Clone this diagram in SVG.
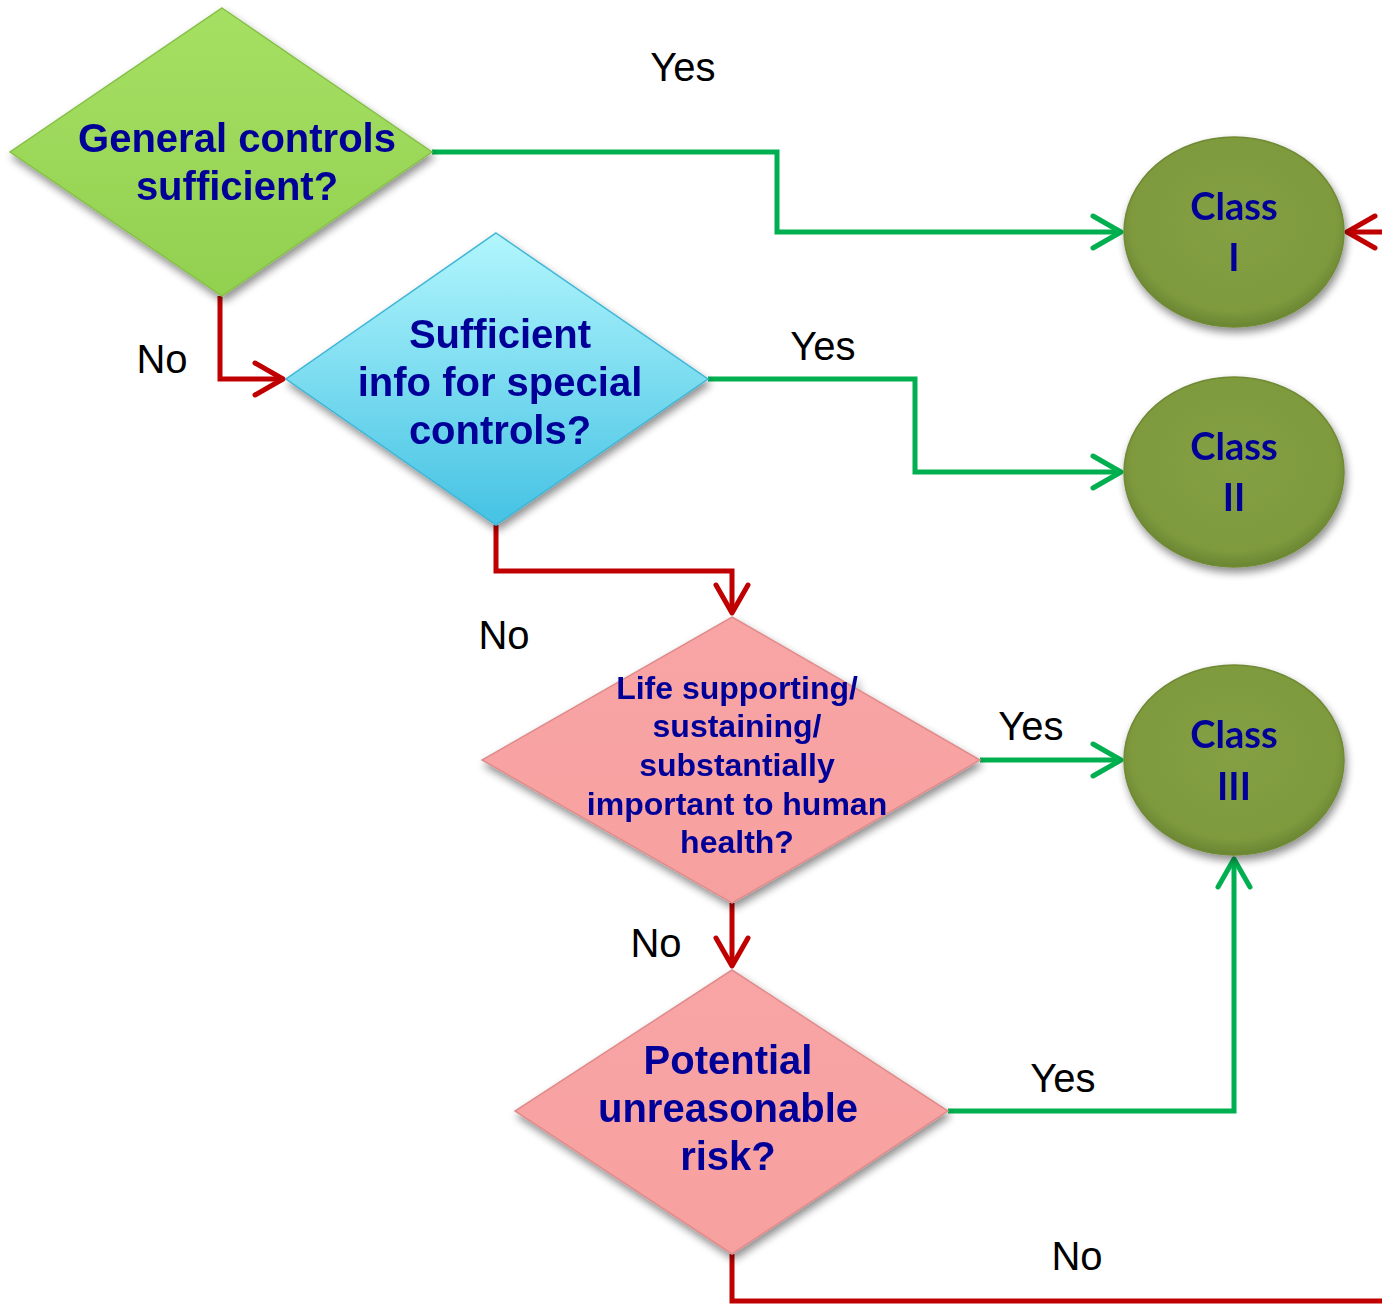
<svg xmlns="http://www.w3.org/2000/svg" width="1382" height="1304" viewBox="0 0 1382 1304">
<style>
.q{font-family:"Liberation Sans",Arial,sans-serif;font-weight:bold;fill:#000099;text-anchor:middle}
.c{font-family:Lato,"Liberation Sans",sans-serif;font-weight:bold;fill:#000099;text-anchor:middle;font-size:38px}
.lbl{font-family:"Liberation Sans",Arial,sans-serif;font-size:40px;fill:#000;text-anchor:middle}
.g{fill:none;stroke:#00b050;stroke-width:5}
.r{fill:none;stroke:#c00000;stroke-width:5}
.ah{stroke-linecap:round;stroke-linejoin:round}
</style>
<defs>
<filter id="sh" x="-10%" y="-10%" width="125%" height="130%">
<feGaussianBlur in="SourceAlpha" stdDeviation="4"/>
<feOffset dx="2" dy="5" result="b"/>
<feComponentTransfer><feFuncA type="linear" slope="0.45"/></feComponentTransfer>
<feMerge><feMergeNode/><feMergeNode in="SourceGraphic"/></feMerge>
</filter>
<linearGradient id="gG" x1="0" y1="0" x2="0" y2="1"><stop offset="0" stop-color="#a6e063"/><stop offset="1" stop-color="#92d050"/></linearGradient>
<linearGradient id="gB" x1="0" y1="0" x2="0" y2="1"><stop offset="0" stop-color="#b2f6fd"/><stop offset="1" stop-color="#45c2e3"/></linearGradient>
<linearGradient id="gP" x1="0" y1="0" x2="0" y2="1"><stop offset="0" stop-color="#f9a5a5"/><stop offset="1" stop-color="#f7a0a0"/></linearGradient>
<radialGradient id="gC" cx="0.5" cy="0.45" r="0.55"><stop offset="0" stop-color="#84a044"/><stop offset="0.85" stop-color="#7e9a3e"/><stop offset="1" stop-color="#6a8532"/></radialGradient>
</defs>
<rect width="1382" height="1304" fill="#fff"/>

<g id="connectors">
<polyline class="g" points="432,152 777,152 777,232 1118,232"/>
<path class="g ah" d="M1093,216 L1121,232 L1093,248"/>
<polyline class="r" points="220,296 220,379 280,379"/>
<path class="r ah" d="M255,363 L283,379 L255,395"/>
<polyline class="g" points="708,379 915,379 915,472 1118,472"/>
<path class="g ah" d="M1093,456 L1121,472 L1093,488"/>
<polyline class="r" points="496,525 496,571 732,571 732,610"/>
<path class="r ah" d="M716,585 L732,613 L748,585"/>
<polyline class="g" points="980,760 1118,760"/>
<path class="g ah" d="M1093,744 L1121,760 L1093,776"/>
<polyline class="r" points="732,903 732,963"/>
<path class="r ah" d="M716,938 L732,966 L748,938"/>
<polyline class="g" points="948,1111 1234,1111 1234,862"/>
<path class="g ah" d="M1218,887 L1234,859 L1250,887"/>
<polyline class="r" points="732,1254 732,1301 1382,1301"/>
<polyline class="r" points="1385,232 1350,232"/>
<path class="r ah" d="M1375,216 L1347,232 L1375,248"/>
<text class="lbl" x="683" y="81">Yes</text>
<text class="lbl" x="162" y="373">No</text>
<text class="lbl" x="823" y="360">Yes</text>
<text class="lbl" x="504" y="649">No</text>
<text class="lbl" x="1031" y="740">Yes</text>
<text class="lbl" x="656" y="957">No</text>
<text class="lbl" x="1063" y="1092">Yes</text>
<text class="lbl" x="1077" y="1270">No</text>
</g>

<g id="d1" filter="url(#sh)">
<polygon points="222,8 432,152 222,296 10,152" fill="url(#gG)" stroke="#86c048" stroke-width="1.5"/>
<text class="q" font-size="40" x="237" y="152">General controls</text>
<text class="q" font-size="40" x="237" y="200">sufficient?</text>
</g>

<g id="d2" filter="url(#sh)">
<polygon points="496,233 708,379 496,525 286,379" fill="url(#gB)" stroke="#3fb5d6" stroke-width="1.5"/>
<text class="q" font-size="40" x="500" y="348">Sufficient</text>
<text class="q" font-size="40" x="500" y="396">info for special</text>
<text class="q" font-size="40" x="500" y="444">controls?</text>
</g>

<g id="d3" filter="url(#sh)">
<polygon points="732,617 980,760 732,903 482,760" fill="url(#gP)" stroke="#e08c8c" stroke-width="1.5"/>
<text class="q" font-size="32" x="737" y="699">Life supporting/</text>
<text class="q" font-size="32" x="737" y="737">sustaining/</text>
<text class="q" font-size="32" x="737" y="776">substantially</text>
<text class="q" font-size="32" x="737" y="815">important to human</text>
<text class="q" font-size="32" x="737" y="853">health?</text>
</g>

<g id="d4" filter="url(#sh)">
<polygon points="732,970 948,1111 732,1254 515,1111" fill="url(#gP)" stroke="#e08c8c" stroke-width="1.5"/>
<text class="q" font-size="40" x="728" y="1074">Potential</text>
<text class="q" font-size="40" x="728" y="1122">unreasonable</text>
<text class="q" font-size="40" x="728" y="1170">risk?</text>
</g>

<g id="c1" filter="url(#sh)">
<ellipse cx="1234" cy="232" rx="110" ry="95" fill="url(#gC)" stroke="#6f8a35" stroke-width="1.5"/>
<text class="c" x="1234" y="220">Class</text>
<text class="c" x="1234" y="271">I</text>
</g>

<g id="c2" filter="url(#sh)">
<ellipse cx="1234" cy="472" rx="110" ry="95" fill="url(#gC)" stroke="#6f8a35" stroke-width="1.5"/>
<text class="c" x="1234" y="460">Class</text>
<text class="c" x="1234" y="511">II</text>
</g>

<g id="c3" filter="url(#sh)">
<ellipse cx="1234" cy="760" rx="110" ry="95" fill="url(#gC)" stroke="#6f8a35" stroke-width="1.5"/>
<text class="c" x="1234" y="748">Class</text>
<text class="c" x="1234" y="800">III</text>
</g>
</svg>
